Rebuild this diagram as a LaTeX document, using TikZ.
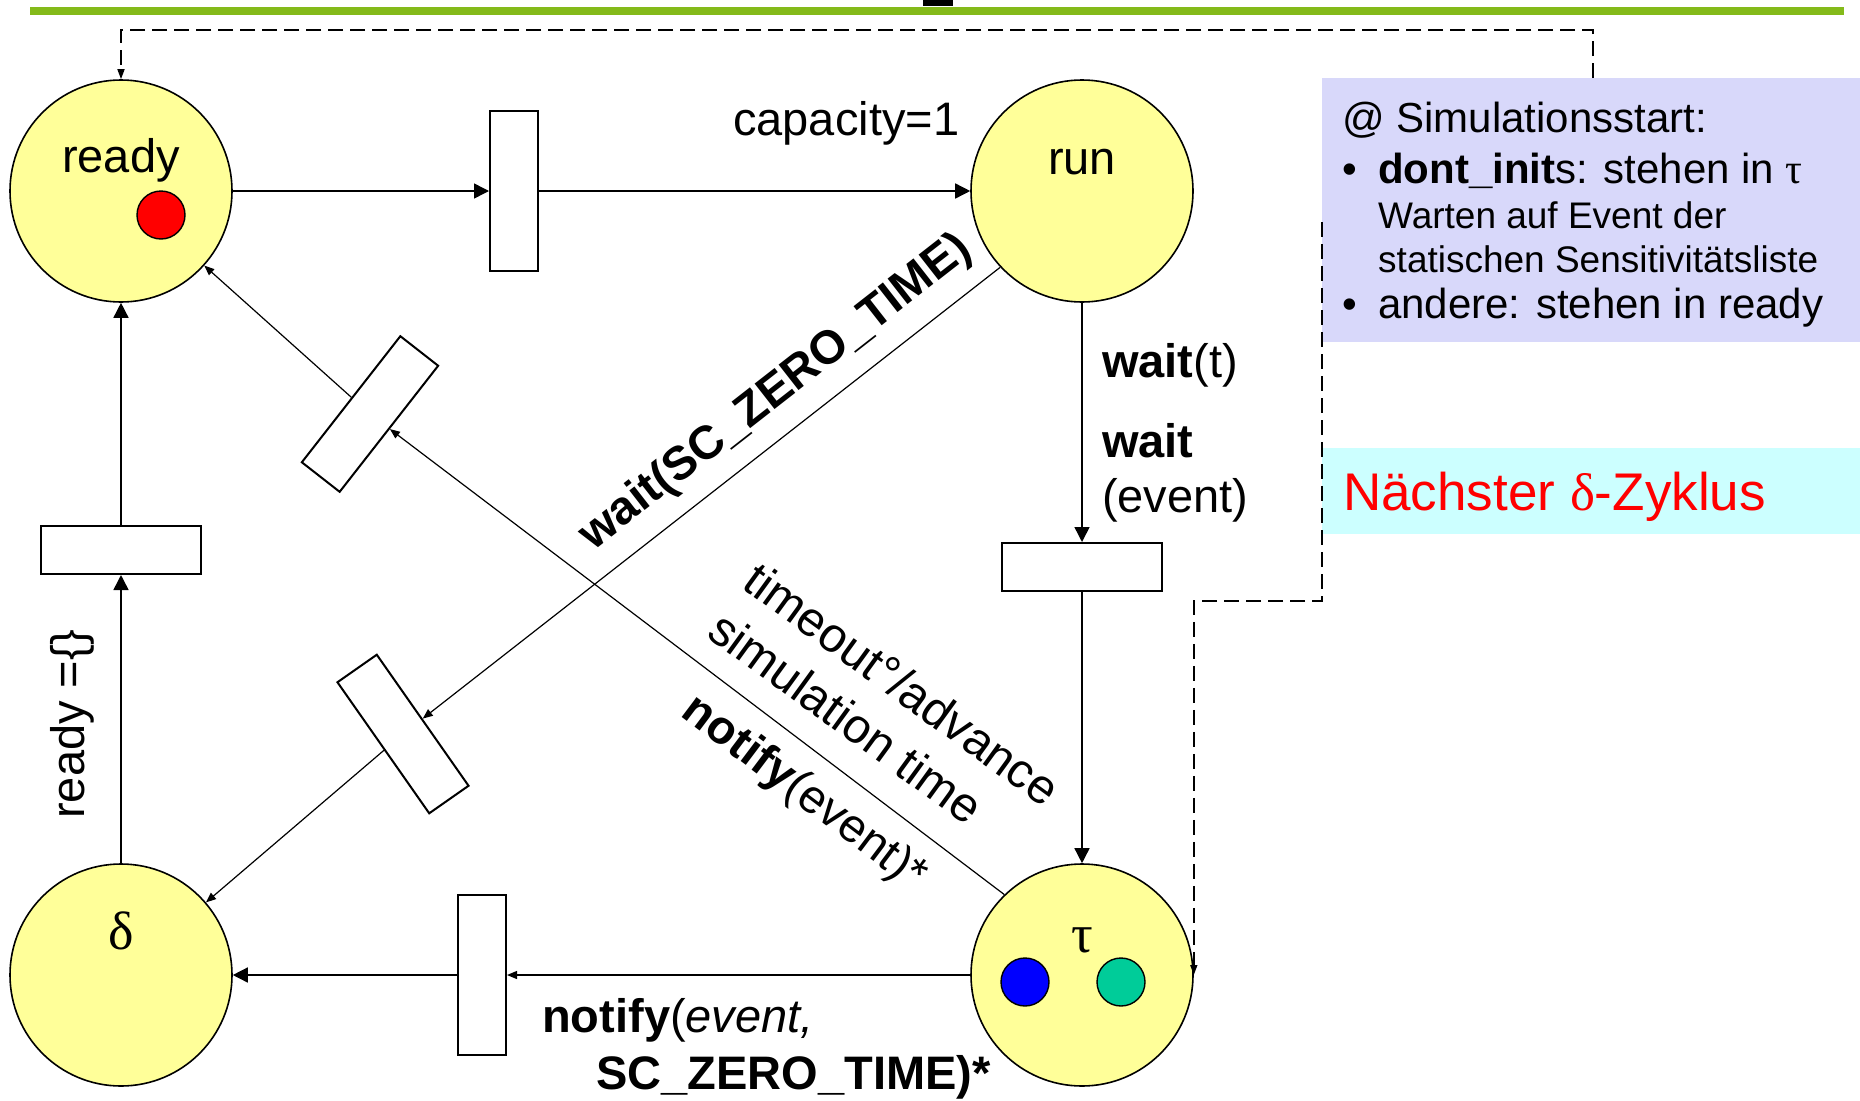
\documentclass[tikz,border=0pt]{standalone}
\usepackage{fontspec}
\setmainfont{Liberation Sans}
\newfontfamily\grk{Liberation Serif}
\usetikzlibrary{arrows.meta}

\definecolor{placeyellow}{RGB}{255,255,153}
\definecolor{bargreen}{RGB}{132,186,26}
\definecolor{infoblue}{RGB}{216,216,250}
\definecolor{infocyan}{RGB}{204,255,255}
\definecolor{tokengreen}{RGB}{0,204,153}

\newcommand\fsz[2]{\fontsize{#1}{#2}\selectfont}

\begin{document}
\begin{tikzpicture}[x=1pt,y=-1pt,
  placenode/.style={circle,draw,line width=1.6pt,fill=placeyellow,minimum size=222pt,inner sep=0pt},
  tokennode/.style={circle,draw,line width=1.4pt,minimum size=48pt,inner sep=0pt},
  vtrans/.style={rectangle,draw,line width=2pt,fill=white,minimum width=48pt,minimum height=160pt,inner sep=0pt},
  htrans/.style={rectangle,draw,line width=2pt,fill=white,minimum width=160pt,minimum height=48pt,inner sep=0pt},
  arrbig/.style={line width=1.5pt,-{Triangle[length=15pt,width=15pt]}},
  arrsmall/.style={line width=1.3pt,-{Triangle[length=10pt,width=8pt]}},
  dashy/.style={line width=1.5pt,dash pattern=on 15pt off 7pt,-{Triangle[length=10pt,width=7pt]}},
  lbl/.style={font=\fsz{47}{59},inner sep=0pt},
  infotxt/.style={font=\fsz{42}{50},inner sep=0pt,anchor=base west},
  infosmall/.style={font=\fsz{37}{44},inner sep=0pt,anchor=base west},
]
\useasboundingbox (0,0) rectangle (1860,1100);

% header bar
\fill (923,0) rectangle (953,6);
\fill[bargreen] (30,7) rectangle (1844,15);

% side notes
\node[fill=infoblue,minimum width=538pt,minimum height=264pt,inner sep=0pt,anchor=north west] (info) at (1322,78) {};
\node[fill=infocyan,minimum width=538pt,minimum height=86pt,inner sep=0pt,anchor=north west] (cyc) at (1322,448) {};

% places
\node[placenode] (ready) at (121,191) {};
\node[placenode] (run)   at (1082,191) {};
\node[placenode] (delta) at (121,975) {};
\node[placenode] (tau)   at (1082,975) {};

% tokens
\node[tokennode,fill=red] (tokr) at (161,215) {};
\node[tokennode,fill=blue] (tokb) at (1025,982) {};
\node[tokennode,fill=tokengreen] (tokg) at (1121,982) {};

% transitions
\node[vtrans] (t1) at (514,191) {};
\node[htrans] (t2) at (1082,567) {};
\node[vtrans] (t3) at (482,975) {};
\node[htrans] (t4) at (121,550) {};
\node[vtrans,rotate=-38] (t5) at (370,414) {};
\node[vtrans,rotate=35] (t6) at (403,734) {};

% arcs
\draw[arrbig] (ready) -- (t1);
\draw[arrbig] (t1) -- (run);
\draw[arrbig] (run) -- (t2);
\draw[arrbig] (t2) -- (tau);
\draw[arrsmall] (tau) -- (t3);
\draw[arrbig] (t3) -- (delta);
\draw[arrbig] (delta) -- (t4);
\draw[arrbig] (t4) -- (ready);
\draw[arrsmall,line width=1.2pt] (tau.134) -- (t5);
\draw[arrsmall,line width=1.2pt] (t5) -- (ready);
\draw[arrsmall,line width=1.2pt] (run.223) -- (t6);
\draw[arrsmall,line width=1.2pt] (t6) -- (delta);

% start-up links from the notes
\coordinate (dsA) at (1593,78);
\coordinate (dsB) at (1322,222);
\draw[dashy] (dsA) -- (1593,30) -| (ready.north);
\draw[dashy] (dsB) -- (1322,601) -| (tau.east);

% place labels
\node[lbl,anchor=base] (lready) at (121,172) {ready};
\node[lbl,anchor=base] (lrun) at (1082,174) {run};
\node[lbl,anchor=base,font=\fsz{54}{60}\grk] (ldelta) at (121,949) {δ};
\node[lbl,anchor=base,font=\fsz{54}{60}\grk] (ltau) at (1082,952) {τ};

% arc labels
\node[lbl,anchor=base west] (lcap) at (733,135) {capacity=1};
\node[lbl,anchor=base west] (lw1) at (1102,377) {\textbf{wait}(t)};
\node[lbl,anchor=base west] (lw2) at (1102,457) {\textbf{wait}};
\node[lbl,anchor=base west] (lw3) at (1102,512) {(event)};
\node[lbl,rotate=38] (lzero) at (776,393) {\textbf{wait(SC\_ZERO\_TIME)}};
\node[lbl,font=\fsz{48.5}{60},rotate=-36,align=left] (ltime) at (885,708) {timeout°/advance\\simulation time};
\node[lbl,rotate=-37] (lnote) at (804,794) {\textbf{notify}(event)*};
\node[lbl,rotate=90] (lempty) at (72,724) {ready =\{\}};
\node[lbl,anchor=base west] (ln1) at (542,1032) {\textbf{notify}(\textit{event,}};
\node[lbl,anchor=base west] (ln2) at (596,1089) {\textbf{SC\_ZERO\_TIME)*}};

% note texts
\node[infotxt] (i1) at (1342,132) {@ Simulationsstart:};
\node[infotxt] (ib1) at (1342,183) {•};
\node[infotxt] (i2) at (1378,183) {\textbf{dont\_init}s: stehen in {\grk τ}};
\node[infosmall] (i3) at (1378,228) {Warten auf Event der};
\node[infosmall] (i4) at (1378,272) {statischen Sensitivitätsliste};
\node[infotxt] (ib2) at (1342,318) {•};
\node[infotxt] (i5) at (1378,318) {andere: stehen in ready};
\node[font=\fsz{53}{60},inner sep=0pt,anchor=base west,text=red] (lcyc) at (1343,510) {Nächster {\grk δ}-Zyklus};
\end{tikzpicture}
\end{document}
